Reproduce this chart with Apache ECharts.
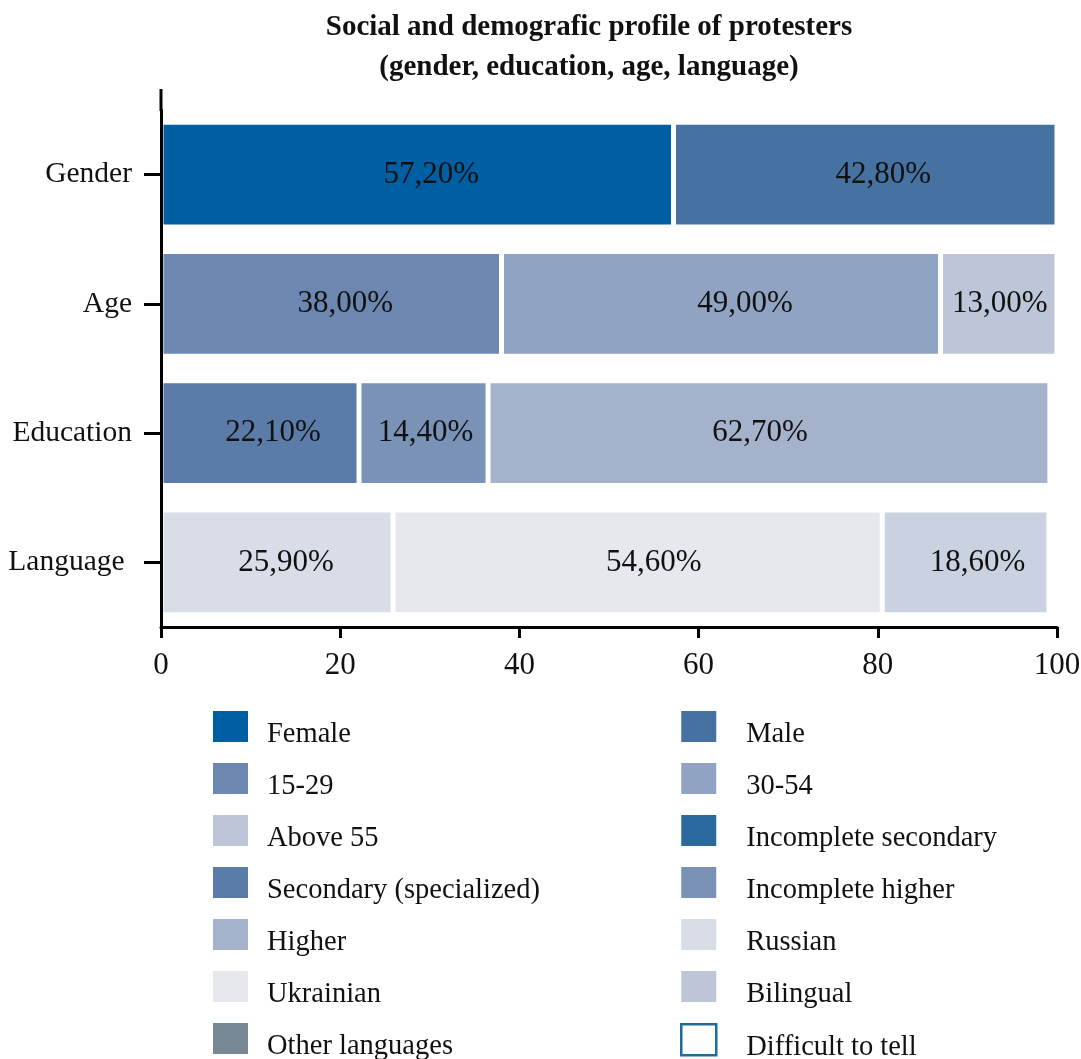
<!DOCTYPE html>
<html>
<head>
<meta charset="utf-8">
<script src="https://cdn.jsdelivr.net/npm/echarts@6/dist/echarts.min.js"></script>
<style>
  html, body { margin: 0; padding: 0; background: #fff; }
  #chart { width: 1081px; height: 1059px; }
</style>
</head>
<body>
<div id="chart"></div>
<script>
// Profile dimensions (top to bottom)
const categories = ['Gender', 'Age', 'Education', 'Language'];
const xTicks = [0, 20, 40, 60, 80, 100];

// Shares in percent per dimension; null where a group does not apply
const female              = [57.2, null, null, null];
const male                = [42.8, null, null, null];
const age15to29           = [null, 38.0, null, null];
const age30to54           = [null, 49.0, null, null];
const above55             = [null, 13.0, null, null];
const incompleteSecondary = [null, null, null, null];
const secondarySpecial    = [null, null, 22.1, null];
const incompleteHigher    = [null, null, 14.4, null];
const higher              = [null, null, 62.7, null];
const russian             = [null, null, null, 25.9];
const ukrainian           = [null, null, null, 54.6];
const bilingual           = [null, null, null, 18.6];
const otherLanguages      = [null, null, null, null];
const difficultToTell     = [null, null, null, null];

const FONT = '"Liberation Serif", "DejaVu Serif", serif';

// Series styling: fill colour and horizontal nudge of the value label (px)
const groups = [
  { name: 'Female', data: female, color: '#005ea2', nudge: 14 },
  { name: 'Male', data: male, color: '#4572a0', nudge: 18 },
  { name: '15-29', data: age15to29, color: '#6c88b0', nudge: 14 },
  { name: '30-54', data: age30to54, color: '#91a3c3', nudge: 24 },
  { name: 'Above 55', data: above55, color: '#bdc6d8', nudge: 1 },
  { name: 'Incomplete secondary', data: incompleteSecondary, color: '#2a6a9e', nudge: 0 },
  { name: 'Secondary (specialized)', data: secondarySpecial, color: '#5b7ca8', nudge: 13 },
  { name: 'Incomplete higher', data: incompleteHigher, color: '#7b92b7', nudge: 2 },
  { name: 'Higher', data: higher, color: '#a4b2cc', nudge: -9 },
  { name: 'Russian', data: russian, color: '#d8dde8', nudge: 9 },
  { name: 'Ukrainian', data: ukrainian, color: '#e6e8ee', nudge: 16 },
  { name: 'Bilingual', data: bilingual, color: '#cad1e0', nudge: 12 },
  { name: 'Other languages', data: otherLanguages, color: '#778894', nudge: 0 },
  { name: 'Difficult to tell', data: difficultToTell, color: '#ffffff', nudge: 0 }
];

const leftColumn = ['Female', '15-29', 'Above 55', 'Secondary (specialized)', 'Higher', 'Ukrainian', 'Other languages'];
const rightColumn = ['Male', '30-54', 'Incomplete secondary', 'Incomplete higher', 'Russian', 'Bilingual', 'Difficult to tell'];

// Legend swatch: a 35x31 square sitting at the top of a 35x47 cell,
// so the item text (centred on the cell) reads slightly below the swatch.
const SWATCH = 'path://M0,0H35V31H0Z M0,47';

function legendItems(names) {
  return names.map(n => {
    if (n === 'Difficult to tell') {
      return { name: n, itemStyle: { color: '#ffffff', borderColor: '#1f6a9e', borderWidth: 2.5 } };
    }
    if (n === 'Bilingual') {
      return { name: n, itemStyle: { color: '#bdc6d8', borderWidth: 0 } };
    }
    return { name: n };
  });
}

function legendColumn(left, textGap) {
  return {
    orient: 'vertical',
    left: left,
    top: 711,
    height: 380,
    padding: 0,
    itemWidth: 35,
    itemHeight: 47,
    itemGap: 5,
    icon: SWATCH,
    itemStyle: { borderWidth: 0 },
    textStyle: {
      fontFamily: FONT, fontSize: 28.5, color: '#111',
      padding: [0, 0, 0, textGap]
    },
    selectedMode: false
  };
}

const chart = echarts.init(document.getElementById('chart'), null, { renderer: 'canvas' });

chart.setOption({
  backgroundColor: '#ffffff',
  animation: false,
  title: {
    text: 'Social and demografic profile of protesters\n(gender, education, age, language)',
    left: 589,
    top: 8,
    padding: 0,
    textAlign: 'center',
    textStyle: { fontFamily: FONT, fontWeight: 'bold', fontSize: 29, lineHeight: 40, color: '#111' }
  },
  legend: [
    Object.assign(legendColumn(213, 14), { data: legendItems(leftColumn) }),
    Object.assign(legendColumn(680, 25), { data: legendItems(rightColumn) })
  ],
  grid: { left: 161, right: 24, top: 110, bottom: 432, containLabel: false, outerBoundsMode: 'none' },
  xAxis: {
    type: 'value',
    min: 0,
    max: 100,
    interval: 20,
    z: 5,
    splitLine: { show: false },
    axisLine: { show: true, lineStyle: { color: '#000', width: 3 } },
    axisTick: { show: true, length: 11, lineStyle: { color: '#000', width: 3 } },
    axisLabel: {
      margin: 23,
      fontFamily: FONT, fontSize: 31, color: '#111',
      formatter: v => (xTicks.includes(v) ? String(v) : '')
    }
  },
  yAxis: {
    type: 'category',
    data: categories,
    inverse: true,
    z: 5,
    axisLine: { show: true, lineStyle: { color: '#000', width: 3 } },
    axisTick: { show: true, length: 17, alignWithLabel: true, lineStyle: { color: '#000', width: 3 } },
    axisLabel: {
      margin: 29, fontFamily: FONT, fontSize: 29.5, color: '#111',
      formatter: v => (v === 'Language' ? v + ' ' : v)
    }
  },
  graphic: [
    {
      type: 'line',
      shape: { x1: 161, y1: 89, x2: 161, y2: 111 },
      style: { stroke: '#000', lineWidth: 3 },
      silent: true
    }
  ],
  series: groups.map(g => ({
    name: g.name,
    type: 'bar',
    stack: 'total',
    data: g.data.map(v => (v == null ? '-' : v)),
    barWidth: '81%',
    itemStyle: { color: g.color, borderColor: '#ffffff', borderWidth: 2.5 },
    label: {
      show: true,
      position: 'inside',
      offset: [g.nudge, 0],
      fontFamily: FONT,
      fontSize: 31,
      color: '#111',
      formatter: p => p.value.toFixed(2).replace('.', ',') + '%'
    }
  }))
});
</script>
</body>
</html>
